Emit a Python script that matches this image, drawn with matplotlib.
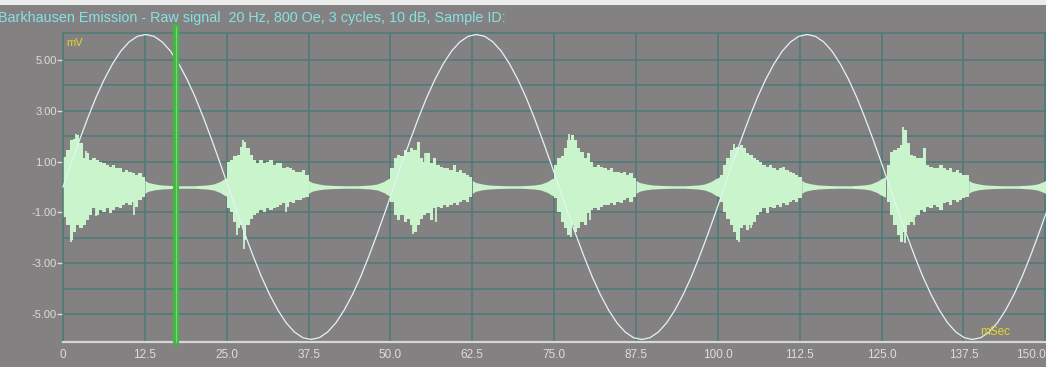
import matplotlib
matplotlib.use("Agg")
import matplotlib.pyplot as plt
import numpy as np
from matplotlib.patches import Rectangle

plt.rcParams['font.family'] = ['Liberation Sans', 'DejaVu Sans']
plt.rcParams['axes.unicode_minus'] = False

# ---------------- data ----------------
TITLE = "Barkhausen Emission - Raw signal  20 Hz, 800 Oe, 3 cycles, 10 dB, Sample ID:"
X_TICKS = [0, 12.5, 25.0, 37.5, 50.0, 62.5, 75.0, 87.5, 100.0, 112.5, 125.0, 137.5, 150.0]
X_TICK_LABELS = ["0", "12.5", "25.0", "37.5", "50.0", "62.5", "75.0", "87.5",
                 "100.0", "112.5", "125.0", "137.5", "150.0"]
Y_TICKS = [5, 3, 1, -1, -3, -5]
Y_TICK_LABELS = ["5.00", "3.00", "1.00", "-1.00", "-3.00", "-5.00"]
Y_UNIT = "mV"
X_UNIT = "mSec"
CURSOR_MS = 17.3

SINE_DT_MS = 1.2625
SINE_MV = [
    0.00, 0.94, 1.85, 2.72, 3.53, 4.24, 4.85, 5.35, 5.71, 5.93,
    6.00, 5.93, 5.71, 5.35, 4.85, 4.24, 3.53, 2.72, 1.85, 0.94,
    0.00, -0.94, -1.85, -2.72, -3.53, -4.24, -4.85, -5.35, -5.71, -5.93,
    -6.00, -5.93, -5.71, -5.35, -4.85, -4.24, -3.53, -2.72, -1.85, -0.94,
    0.00, 0.94, 1.85, 2.72, 3.53, 4.24, 4.85, 5.35, 5.71, 5.93,
    6.00, 5.93, 5.71, 5.35, 4.85, 4.24, 3.53, 2.72, 1.85, 0.94,
    0.00, -0.94, -1.85, -2.72, -3.53, -4.24, -4.85, -5.35, -5.71, -5.93,
    -6.00, -5.93, -5.71, -5.35, -4.85, -4.24, -3.53, -2.72, -1.85, -0.94,
    0.00, 0.94, 1.85, 2.72, 3.53, 4.24, 4.85, 5.35, 5.71, 5.93,
    6.00, 5.93, 5.71, 5.35, 4.85, 4.24, 3.53, 2.72, 1.85, 0.94,
    0.00, -0.94, -1.85, -2.72, -3.53, -4.24, -4.85, -5.35, -5.71, -5.93,
    -6.00, -5.93, -5.71, -5.35, -4.85, -4.24, -3.53, -2.72, -1.85, -0.94,
    0.00,
]

# Barkhausen bursts: envelope read every 0.5 ms after each burst start
BURST_START_MS = [0.0, 25.0, 50.0, 75.0, 100.3, 125.8]
DENSE_STEP_MS = 0.5
BURST_UPPER = [
    [1.19, 1.45, 1.85, 1.90, 2.05, 1.72, 1.13, 1.33, 1.07, 1.13, 1.07, 1.00, 0.93,
     0.87, 0.80, 0.87, 0.74, 0.74, 0.60, 0.67, 0.60, 0.54, 0.47, 0.54, 0.41],
    [1.00, 1.07, 1.20, 1.26, 1.59, 1.78, 1.52, 1.26, 1.07, 0.93, 1.07, 0.93, 1.00,
     1.07, 0.87, 0.93, 0.93, 0.74, 0.80, 0.74, 0.67, 0.60, 0.60, 0.67, 0.47],
    [0.74, 1.13, 1.26, 1.20, 1.45, 1.39, 1.52, 1.45, 1.78, 1.13, 1.00, 1.33, 0.93,
     1.13, 0.87, 0.80, 0.74, 0.74, 0.67, 0.87, 0.60, 0.67, 0.54, 0.47, 0.41],
    [0.87, 1.13, 1.20, 1.52, 1.85, 2.05, 1.85, 1.52, 1.39, 1.13, 1.33, 1.00, 0.80,
     0.87, 0.80, 0.74, 0.67, 0.74, 0.60, 0.60, 0.54, 0.60, 0.47, 0.54, 0.34],
    [0.47, 0.87, 1.13, 1.45, 1.52, 1.59, 1.65, 1.52, 1.33, 1.26, 1.13, 1.07, 1.00,
     0.87, 0.80, 0.87, 0.74, 0.67, 0.74, 0.80, 0.67, 0.60, 0.54, 0.47, 0.41],
    [0.87, 1.39, 1.45, 1.52, 1.65, 2.24, 1.72, 1.26, 1.20, 1.13, 1.13, 1.52, 0.87,
     0.80, 0.74, 0.74, 0.87, 0.74, 0.67, 0.74, 0.60, 0.67, 0.54, 0.47, 0.47],
]
BURST_LOWER = [
    [-1.20, -1.50, -2.10, -1.76, -1.50, -1.63, -1.50, -1.30, -1.10, -0.84, -1.10, -0.90, -0.97,
     -0.84, -1.04, -0.90, -0.77, -0.84, -0.71, -0.64, -0.71, -0.58, -0.77, -0.51, -0.38],
    [-0.84, -0.97, -1.37, -1.63, -1.50, -2.10, -1.50, -1.24, -1.10, -1.04, -0.90, -0.97, -0.84,
     -0.90, -0.84, -0.77, -0.71, -0.64, -0.77, -0.58, -0.64, -0.51, -0.51, -0.44, -0.38],
    [-0.58, -1.10, -1.30, -1.10, -1.37, -1.24, -1.50, -1.76, -1.50, -1.24, -1.10, -1.04, -1.30,
     -0.84, -0.77, -0.84, -0.71, -0.77, -0.71, -0.64, -0.71, -0.58, -0.51, -0.58, -0.38],
    [-0.44, -0.97, -1.37, -1.63, -1.89, -1.50, -1.76, -1.63, -1.37, -1.50, -1.04, -0.90, -0.84,
     -0.90, -0.77, -0.71, -0.71, -0.64, -0.71, -0.58, -0.64, -0.51, -0.44, -0.58, -0.38],
    [-0.58, -0.97, -1.24, -1.50, -1.76, -2.10, -1.63, -1.50, -1.70, -1.50, -1.37, -1.10, -0.97,
     -0.84, -1.04, -0.77, -0.84, -0.71, -0.77, -0.64, -0.71, -0.58, -0.51, -0.58, -0.44],
    [-0.58, -1.10, -1.50, -1.89, -2.15, -1.76, -1.50, -1.37, -1.17, -1.10, -0.90, -0.97, -0.77,
     -0.84, -0.71, -0.77, -0.90, -0.64, -0.58, -0.71, -0.51, -0.58, -0.51, -0.44, -0.38],
]
# quiet tail after each burst (relative to burst start)
TAIL_T_MS = [12.5, 13.0, 14.0, 15.0, 16.5, 18.0, 20.0, 22.0, 23.0, 24.0, 24.6, 25.3]
TAIL_UPPER = [0.26, 0.18, 0.12, 0.08, 0.06, 0.05, 0.05, 0.08, 0.12, 0.22, 0.32, 0.40]
TAIL_LOWER = [-0.25, -0.17, -0.11, -0.08, -0.06, -0.05, -0.05, -0.08, -0.12, -0.22, -0.32, -0.40]
# isolated thin spikes
SPIKE_T_MS = [1.2, 2.0, 3.5, 5.0, 10.9, 26.6, 27.7, 27.5, 34.1, 53.4, 55.2, 57.0,
              77.3, 77.5, 78.4, 80.4, 102.4, 103.2, 105.0, 128.3, 128.5, 131.4, 129.9]
SPIKE_MV = [-2.15, 2.10, 1.40, -1.15, -1.10, -1.90, -2.45, 1.85, -0.97, -1.85, 1.35, -1.37,
            2.10, -1.95, 1.80, -1.30, 1.70, -2.15, -1.60, 2.35, -2.20, 1.55, -1.50]

# ---------------- style ----------------
BG = '#848183'
GRID = '#4a7b76'
NOISE = '#caf4cc'
SINE = '#e2f4f4'
LABEL = '#dcdcdc'
YELLOW = '#e2d62a'
W, H = 1046, 367

fig = plt.figure(figsize=(W / 100, H / 100), dpi=100, facecolor=BG)
ax = fig.add_axes([63 / W, 1 - 342 / H, (W - 63) / W, (342 - 33) / H])
ax.set_facecolor(BG)
ax.set_xlim(0, 150.1)
ax.set_ylim(-6.1, 6.06)

for v in range(-5, 6):
    ax.axhline(v, color=GRID, lw=1.1, zorder=1)
for t in X_TICKS:
    ax.axvline(t, color=GRID, lw=1.1, zorder=1)

# Barkhausen noise
for k, t0 in enumerate(BURST_START_MS):
    up = np.array(BURST_UPPER[k])
    lo = np.array(BURST_LOWER[k])
    td = t0 + np.arange(len(up)) * DENSE_STEP_MS
    td = np.append(td, t0 + len(up) * DENSE_STEP_MS)
    up = np.append(up, up[-1])
    lo = np.append(lo, lo[-1])
    ax.fill_between(td, lo, up, step='post', color=NOISE, lw=0, zorder=2)
    tt = t0 + np.array(TAIL_T_MS)
    ax.fill_between(tt, TAIL_LOWER, TAIL_UPPER, color=NOISE, lw=0, zorder=2)
ax.vlines(SPIKE_T_MS, 0, SPIKE_MV, color=NOISE, lw=1.3, zorder=2)

# excitation sine
st = np.arange(len(SINE_MV)) * SINE_DT_MS
ax.plot(st, SINE_MV, color=SINE, lw=0.9, zorder=3, clip_on=False)

# cursor
ax.axvline(CURSOR_MS, ymin=0, ymax=1.02, color='#42b842', lw=4.4, zorder=4, clip_on=False)
ax.axvline(CURSOR_MS, ymin=0, ymax=1.02, color='#74d874', lw=0.8, zorder=5, clip_on=False)

# spines
for s in ['left', 'top']:
    ax.spines[s].set_color(GRID)
    ax.spines[s].set_linewidth(1.1)
ax.spines['right'].set_visible(False)
ax.spines['bottom'].set_color('#d6d6d6')
ax.spines['bottom'].set_linewidth(1.6)

ax.set_xticks(X_TICKS, X_TICK_LABELS)
ax.set_yticks(Y_TICKS, Y_TICK_LABELS)
ax.tick_params(axis='x', length=0, pad=5, labelsize=8.5, labelcolor=LABEL)
ax.tick_params(axis='y', length=4, width=1, color=LABEL, pad=0.5, labelsize=8, labelcolor=LABEL)
ax.get_xticklabels()[-1].set_horizontalalignment('right')

# top white strip and texts
fig.add_artist(Rectangle((0, 1 - 5 / H), 1, 5 / H, transform=fig.transFigure,
                         color='#ececec', lw=0))
fig.text(-2 / W, 1 - 18 / H, TITLE, color='#86e2e2', fontsize=10.4, va='center', ha='left')
fig.text(66 / W, 1 - 43 / H, Y_UNIT, color=YELLOW, fontsize=8, va='center', ha='left')
fig.text(980 / W, 1 - 332 / H, X_UNIT, color=YELLOW, fontsize=8.5, va='center', ha='left')

fig.savefig('out.png', dpi=100, facecolor=BG)
